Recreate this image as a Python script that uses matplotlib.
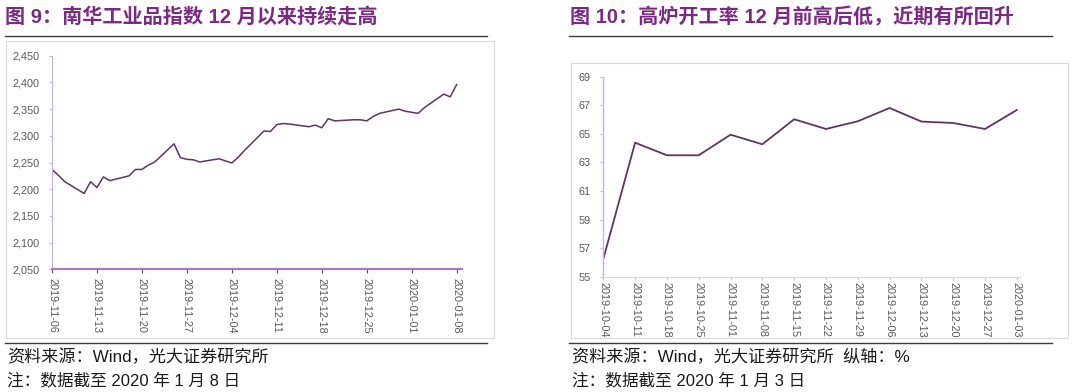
import numpy as np
import pandas as pd
import matplotlib
matplotlib.use("Agg")
import matplotlib.pyplot as plt
from matplotlib.patches import Rectangle
from matplotlib.lines import Line2D
from matplotlib.ticker import FuncFormatter

plt.rcParams['font.family'] = ['Liberation Sans', 'Noto Sans CJK SC']

# 南华工业品指数 (daily)
nh_dates = ['2019-11-06', '2019-11-07', '2019-11-08', '2019-11-11', '2019-11-12',
            '2019-11-13', '2019-11-14', '2019-11-15', '2019-11-18', '2019-11-19',
            '2019-11-20', '2019-11-21', '2019-11-22', '2019-11-25', '2019-11-26',
            '2019-11-27', '2019-11-28', '2019-11-29', '2019-12-02', '2019-12-03',
            '2019-12-04', '2019-12-05', '2019-12-06', '2019-12-09', '2019-12-10',
            '2019-12-11', '2019-12-12', '2019-12-13', '2019-12-16', '2019-12-17',
            '2019-12-18', '2019-12-19', '2019-12-20', '2019-12-23', '2019-12-24',
            '2019-12-25', '2019-12-26', '2019-12-27', '2019-12-30', '2019-12-31',
            '2020-01-02', '2020-01-03', '2020-01-06', '2020-01-07', '2020-01-08']
nh_values = [2237, 2226, 2214, 2192, 2214,
             2203, 2223, 2216, 2225, 2237,
             2237, 2245, 2251, 2285, 2259,
             2256, 2255, 2251, 2257, 2253,
             2249, 2260, 2273, 2309, 2308,
             2321, 2323, 2322, 2317, 2320,
             2315, 2332, 2328, 2330, 2330,
             2328, 2336, 2342, 2350, 2346,
             2342, 2353, 2378, 2373, 2396]
nh_ticks = ['2019-11-06', '2019-11-13', '2019-11-20', '2019-11-27', '2019-12-04',
            '2019-12-11', '2019-12-18', '2019-12-25', '2020-01-01', '2020-01-08']

# 高炉开工率 (weekly, %)
bf_dates = ['2019-10-04', '2019-10-11', '2019-10-18', '2019-10-25', '2019-11-01',
            '2019-11-08', '2019-11-15', '2019-11-22', '2019-11-29', '2019-12-06',
            '2019-12-13', '2019-12-20', '2019-12-27', '2020-01-03']
bf_values = [56.24, 64.38, 63.50, 63.50, 64.94,
             64.27, 66.02, 65.34, 65.88, 66.81,
             65.86, 65.76, 65.34, 66.67]

title_l = '图 9：南华工业品指数 12 月以来持续走高'
title_r = '图 10：高炉开工率 12 月前高后低，近期有所回升'
src_l = '资料来源：Wind，光大证券研究所'
src_r = '资料来源：Wind，光大证券研究所  纵轴：%'
note_l = '注：数据截至 2020 年 1 月 8 日'
note_r = '注：数据截至 2020 年 1 月 3 日'

W, H = 1080, 392
fig = plt.figure(figsize=(W / 100, H / 100), dpi=100)


def fx(x):
    return x / W


def fy(y):
    return 1 - y / H


title_color = '#7B2A82'
label_color = '#595959'
line_color = '#633265'

# frame decorations
for x0, x1, bx0, bx1, btop in [(5, 487, 6, 494, 40.5), (569, 1052, 571, 1068, 63.3)]:
    fig.add_artist(Line2D([fx(x0), fx(x1)], [fy(36), fy(36)], transform=fig.transFigure,
                          color='#3a3a3a', lw=1.0))
    fig.add_artist(Line2D([fx(x0), fx(x1)], [fy(343), fy(343)], transform=fig.transFigure,
                          color='#3a3a3a', lw=1.0))
    fig.add_artist(Rectangle((fx(bx0), fy(337.7)), fx(bx1) - fx(bx0), fy(btop) - fy(337.7),
                             transform=fig.transFigure, fill=False,
                             edgecolor='#DADADA', lw=0.8))

fig.text(fx(5), fy(17), title_l, color=title_color, fontsize=14.5, fontweight='bold',
         ha='left', va='center')
fig.text(fx(570), fy(17), title_r, color=title_color, fontsize=14.5, fontweight='bold',
         ha='left', va='center')
fig.text(fx(7), fy(357), src_l, color='#1a1a1a', fontsize=12.3, ha='left', va='center')
fig.text(fx(7), fy(380), note_l, color='#1a1a1a', fontsize=12, ha='left', va='center')
fig.text(fx(572), fy(357), src_r, color='#1a1a1a', fontsize=12.3, ha='left', va='center')
fig.text(fx(572), fy(380), note_r, color='#1a1a1a', fontsize=12, ha='left', va='center')

# left chart
ax1 = fig.add_axes([fx(52), fy(269.3), (462 - 52) / W, (269.3 - 55.7) / H])
ax1.plot(pd.to_datetime(nh_dates), nh_values, color=line_color, lw=1.1)
ax1.set_ylim(2050, 2450)
ax1.set_yticks(np.arange(2050, 2451, 50))
ax1.yaxis.set_major_formatter(FuncFormatter(lambda v, p: f'{v:,.0f}'))
ax1.set_xlim(pd.Timestamp('2019-11-06'), pd.Timestamp('2020-01-08') + pd.Timedelta(hours=20))
tk = pd.to_datetime(nh_ticks)
ax1.set_xticks(tk)
ax1.set_xticklabels([d.strftime('%Y-%m-%d') for d in tk], rotation=-90)
for s in ['top', 'right']:
    ax1.spines[s].set_visible(False)
ax1.spines['left'].set_color('#C9AEEA')
ax1.spines['left'].set_linewidth(0.8)
ax1.spines['bottom'].set_color('#A57CB8')
ax1.spines['bottom'].set_linewidth(1.6)
ax1.tick_params(axis='y', length=2, width=0.8, color='#C9AEEA', pad=7,
                labelsize=7.8, labelcolor=label_color)
ax1.tick_params(axis='x', length=3, width=0.8, color='#5a4a5a', pad=3,
                labelsize=7.8, labelcolor=label_color)

# right chart
ax2 = fig.add_axes([fx(603.3), fy(276.7), (1020 - 603.3) / W, 200 / H])
xi = np.arange(len(bf_dates))
ax2.plot(xi, bf_values, color=line_color, lw=1.3)
ax2.set_ylim(55, 69)
ax2.set_yticks(np.arange(55, 70, 2))
ax2.set_xlim(0, len(bf_dates) - 1 + 0.1)
ax2.set_xticks(xi)
ax2.set_xticklabels(bf_dates, rotation=-90)
for s in ['top', 'right']:
    ax2.spines[s].set_visible(False)
ax2.spines['left'].set_color('#C9AEEA')
ax2.spines['left'].set_linewidth(1.0)
ax2.spines['bottom'].set_color('#D9D9D9')
ax2.spines['bottom'].set_linewidth(0.8)
ax2.tick_params(axis='y', length=2, width=0.8, color='#C9AEEA', pad=7,
                labelsize=7.8, labelcolor=label_color)
ax2.tick_params(axis='x', length=2.5, width=0.8, color='#BFBFBF', pad=1,
                labelsize=7.8, labelcolor=label_color)

fig.savefig('out.png', dpi=100)
